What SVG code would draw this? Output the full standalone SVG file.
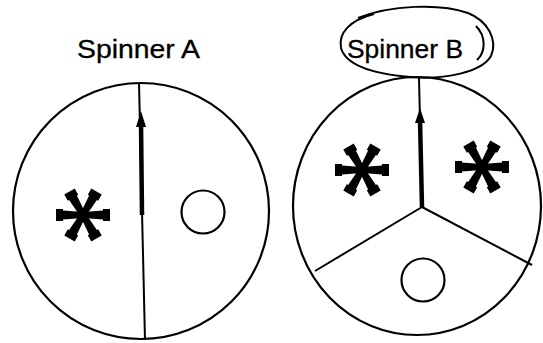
<svg xmlns="http://www.w3.org/2000/svg" width="543" height="343" viewBox="0 0 543 343">
<style>
.rim{fill:none;stroke:#000;stroke-width:2.2}
.thin{stroke:#000;stroke-width:2;fill:none}
.ptr{stroke:#000;stroke-width:4.5;fill:none}
.lbl{font-family:"Liberation Sans",Arial,sans-serif;font-size:25px;fill:#000;stroke:#000;stroke-width:0.3}
</style>
<defs>
<polygon id="arm" points="0,-3 20,-4.5 20,-6 27,-6 27,6 20,6 20,4.5 0,3" fill="#000"/>
<g id="ast">
<use href="#arm"/>
<use href="#arm" transform="rotate(60)"/>
<use href="#arm" transform="rotate(120)"/>
<use href="#arm" transform="rotate(180)"/>
<use href="#arm" transform="rotate(240)"/>
<use href="#arm" transform="rotate(300)"/>
<circle r="4" fill="#000"/>
</g>
</defs>
<rect width="543" height="343" fill="#fff"/>
<g id="spinnerA">
<text class="lbl" x="77" y="58" textLength="123" lengthAdjust="spacingAndGlyphs">Spinner A</text>
<ellipse class="rim" cx="141" cy="211" rx="128" ry="128"/>
<line class="thin" x1="139" y1="83" x2="145" y2="340"/>
<line class="ptr" x1="142" y1="215" x2="141" y2="122"/>
<polygon points="141,111 136,127 146,127" fill="#000"/>
<use href="#ast" x="83" y="215"/>
<circle class="rim" cx="203" cy="212" r="21.5"/>
</g>
<g id="spinnerB">
<path class="thin" stroke-width="2.4" d="M 358 18 C 390 5 440 3 468 13 C 488 21 498 40 491 56 C 482 72 445 80 410 77 C 375 74 346 66 341 48 C 338 33 350 20 374 14"/>
<path class="thin" d="M 476 26 C 486 36 486 52 477 60"/>
<text class="lbl" x="347" y="58" textLength="116" lengthAdjust="spacingAndGlyphs">Spinner B</text>
<ellipse class="rim" cx="417" cy="206" rx="124" ry="129"/>
<line class="thin" x1="419" y1="78" x2="422" y2="207"/>
<line class="ptr" x1="422" y1="207" x2="420" y2="120"/>
<polygon points="420,108 415,123 425,123" fill="#000"/>
<line class="thin" x1="422" y1="207" x2="315" y2="271"/>
<line class="thin" x1="422" y1="207" x2="532" y2="265"/>
<use href="#ast" x="362" y="170"/>
<use href="#ast" x="482" y="167"/>
<circle class="rim" cx="423" cy="280" r="21.5"/>
</g>
</svg>
